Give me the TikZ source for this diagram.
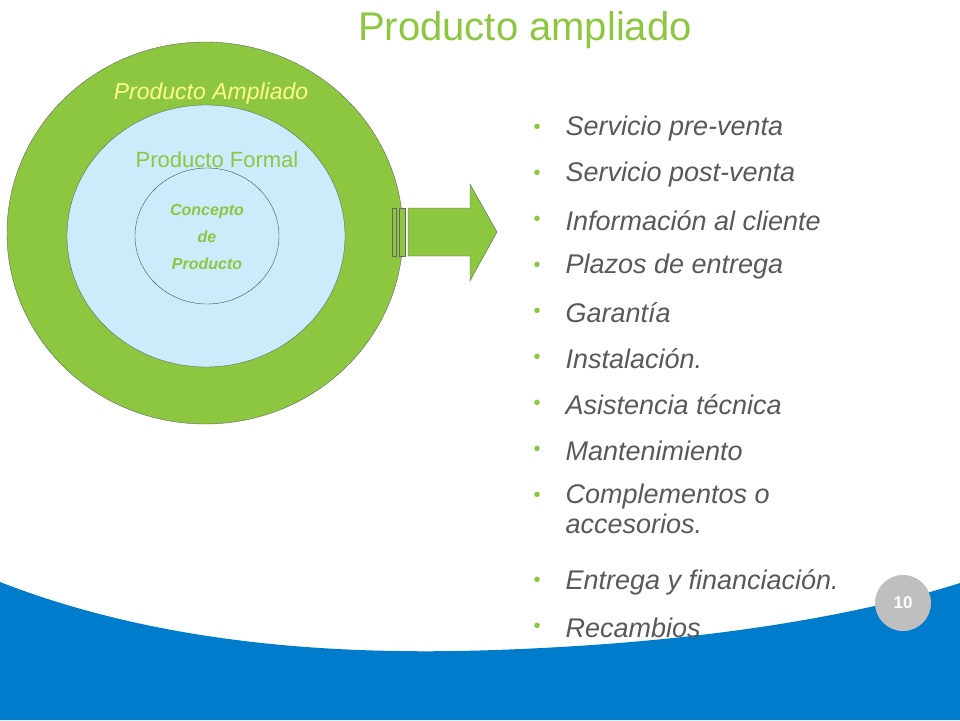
\documentclass[tikz,border=0pt]{standalone}
\usepackage{fontspec}
\setmainfont{Liberation Sans}
\definecolor{grn}{RGB}{141,198,63}
\definecolor{lblue}{RGB}{204,236,252}
\definecolor{dblue}{RGB}{0,124,204}
\definecolor{txt}{RGB}{89,89,89}
\definecolor{yel}{RGB}{255,255,140}
\begin{document}
\begin{tikzpicture}[x=1pt,y=-1pt,
  item/.style={anchor=west,text=txt,font=\fontsize{27}{30}\selectfont\itshape,align=left},
  bul/.style={text=grn,font=\fontsize{20}{20}\selectfont}]
\useasboundingbox (0,0) rectangle (960,720);
\fill[white] (0,0) rectangle (960,720);
\fill[dblue] (0,582) .. controls (200,660) and (420,655) .. (560,647) .. controls (720,638) and (860,615) .. (960,583) -- (960,720) -- (0,720) -- cycle;
\node[text=grn,font=\fontsize{40}{40}\selectfont] (title) at (525,30) {Producto ampliado};
\draw[fill=grn,draw=black!60,thin] (205,233) ellipse [x radius=198,y radius=191];
\draw[fill=lblue,draw=black!60,thin] (206,236) ellipse [x radius=139,y radius=131];
\draw[draw=black!70,thin] (207,236) ellipse [x radius=72,y radius=68];
\node[text=yel,font=\fontsize{23}{23}\selectfont\itshape] (pa) at (211,94) {Producto Ampliado};
\node[text=grn,font=\fontsize{22}{22}\selectfont] (pf) at (217,160) {Producto Formal};
\node[text=grn,font=\fontsize{16}{27}\selectfont\bfseries\itshape,align=center] (cp) at (207,237) {Concepto\\de\\Producto};
\draw[fill=grn,draw=black!60,thin] (392,208) rectangle (396,256);
\draw[fill=grn,draw=black!60,thin] (399,208) rectangle (405,256);
\draw[fill=grn,draw=black!60,thin] (408,208) -- (470,208) -- (470,184) -- (497,232) -- (470,281) -- (470,256) -- (408,256) -- cycle;
\foreach \t/\y [count=\i] in {Servicio pre-venta/129,Servicio post-venta/175,Información al cliente/221,Plazos de entrega/267,Garantía/313,Instalación./359,Asistencia técnica/405,Mantenimiento/451,Entrega y financiación./582,Recambios/628}{
  \node[bul] (b\i) at (537,\y) {•};
  \node[item] (t\i) at (562,\y) {\t};
}
\node[bul] (bc) at (537,497) {•};
\node[item,anchor=north west] (tc) at (562,480) {Complementos o\\accesorios.};
\fill[black!25] (903,603) circle (28);
\node[text=white,font=\fontsize{17}{17}\selectfont\bfseries] (pg) at (903,603) {10};
\end{tikzpicture}
\end{document}
